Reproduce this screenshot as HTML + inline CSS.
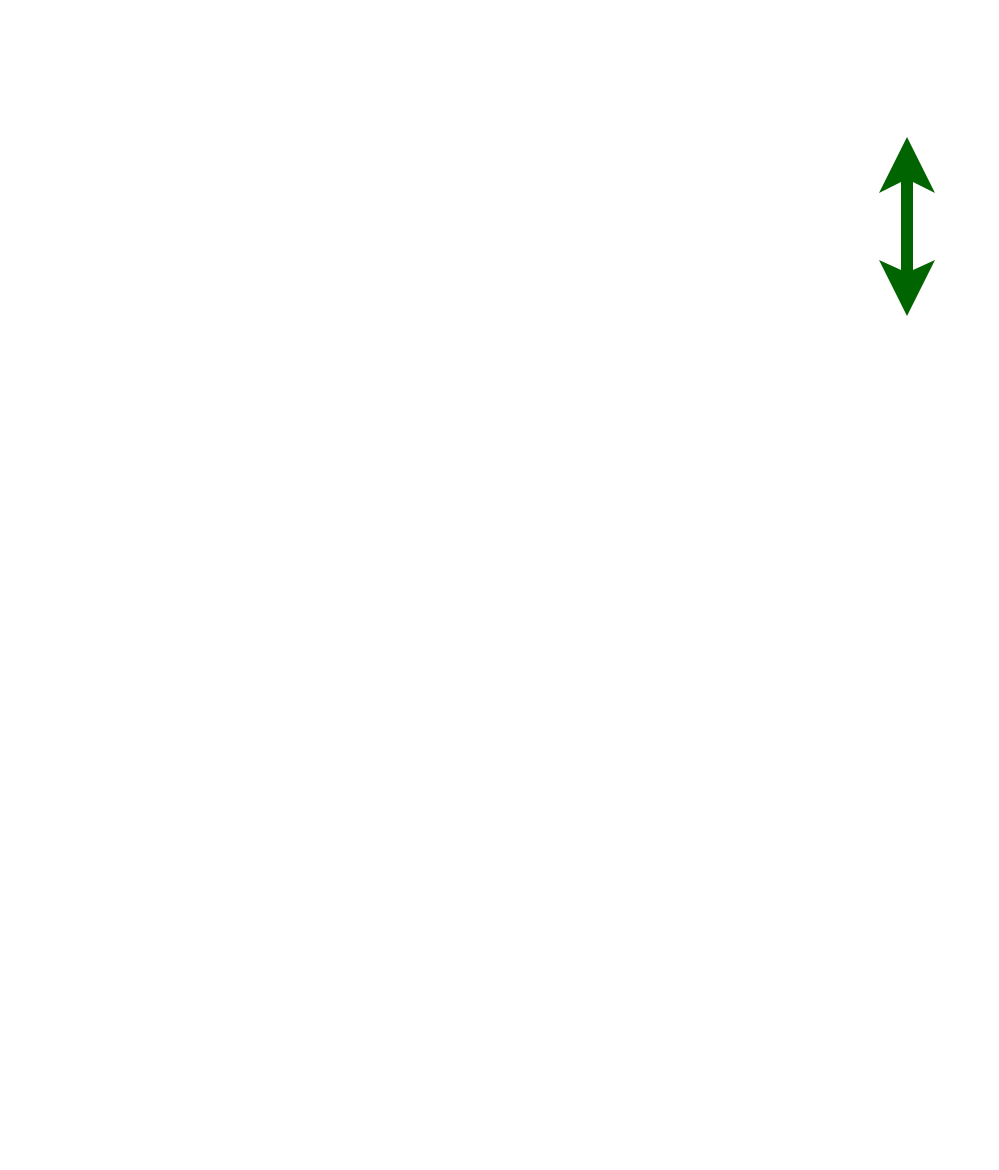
<!DOCTYPE html>
<html><head><style>html,body{margin:0;padding:0;background:#fff;width:999px;height:1170px;overflow:hidden}</style></head>
<body>
<svg width="999" height="1170" style="position:absolute;left:0;top:0">
<polygon fill="#006400" points="907,137 935,193 913,182 913,270 935,260 907,316 879,260 901,270 901,182 879,193"/>
</svg>
</body></html>
